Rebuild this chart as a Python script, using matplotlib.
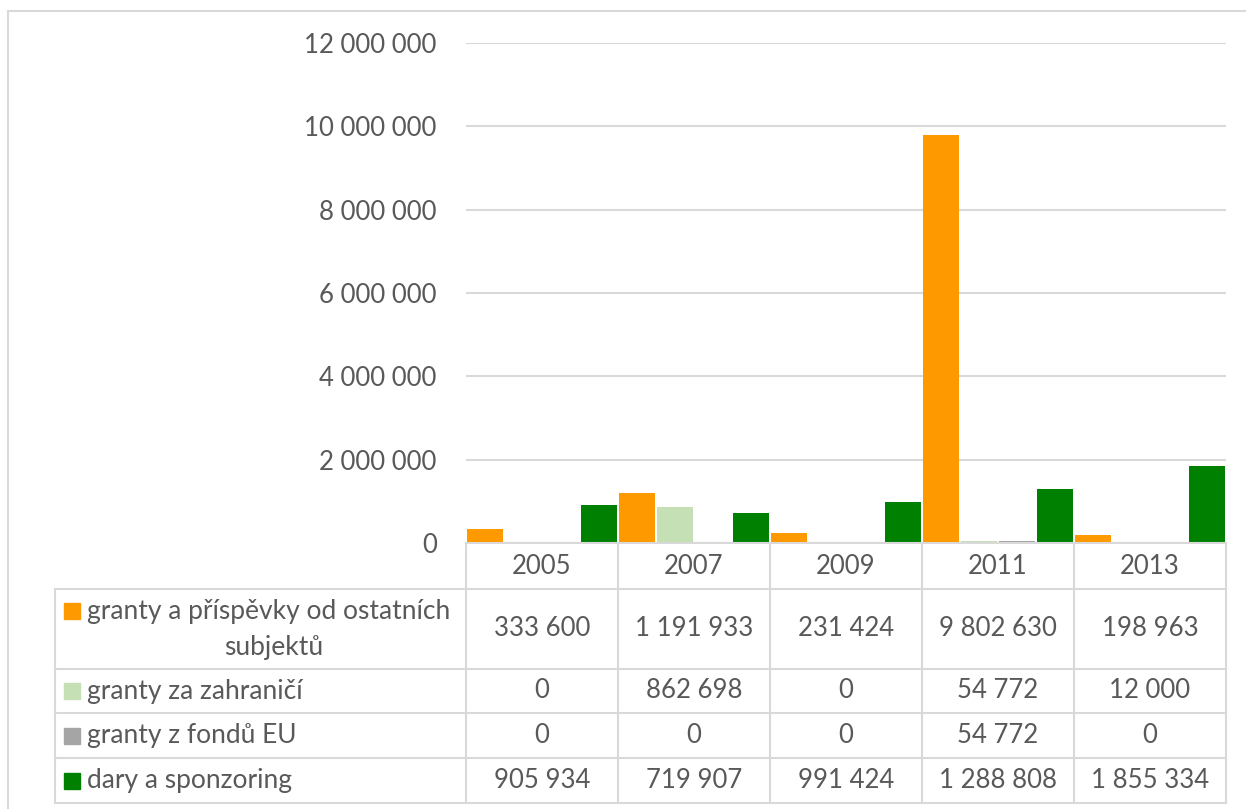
import matplotlib.pyplot as plt
from matplotlib.patches import Rectangle

plt.rcParams['font.family'] = ['Lato', 'DejaVu Sans']

years = ['2005', '2007', '2009', '2011', '2013']
series_names = ['granty a příspěvky od ostatních subjektů',
                'granty za zahraničí',
                'granty z fondů EU',
                'dary a sponzoring']
granty_ostatni = [333600, 1191933, 231424, 9802630, 198963]
granty_zahranici = [0, 862698, 0, 54772, 12000]
granty_eu = [0, 0, 0, 54772, 0]
dary = [905934, 719907, 991424, 1288808, 1855334]
series = [granty_ostatni, granty_zahranici, granty_eu, dary]
colors = ['#FF9900', '#C5E0B4', '#A5A5A5', '#008000']

txt = '#595959'
grid_c = '#D9D9D9'
W, H = 1246, 809
fs = 18.5
fs_lab = 19


def fmt(v):
    return f'{v:,}'.replace(',', ' ')


fig = plt.figure(figsize=(W / 100, H / 100), dpi=100)

# outer chart border (right/bottom lie outside the picture)
fig.patches.append(Rectangle((8 / W, -0.05), 1.2, 1 - 11 / H + 0.05,
                             transform=fig.transFigure, fill=False,
                             edgecolor=grid_c, lw=1.5))

# main bar axes
x0, x1, y_top, y_zero = 466, 1226, 43, 543
ax = fig.add_axes([x0 / W, (H - y_zero) / H, (x1 - x0) / W, (y_zero - y_top) / H])
n = len(series)
bw = 1.0 / n
for i, (vals, c) in enumerate(zip(series, colors)):
    pos = [k - 0.5 + bw * (i + 0.5) for k in range(len(years))]
    ax.bar(pos, vals, width=bw * 0.94, color=c, lw=0, zorder=3)
ax.set_xlim(-0.5, len(years) - 0.5)
ax.set_ylim(0, 12000000)
ax.set_yticks(range(0, 12000001, 2000000))
ax.set_yticklabels([fmt(v) for v in range(0, 12000001, 2000000)])
ax.tick_params(axis='y', length=0, pad=21, labelsize=fs, labelcolor=txt)
ax.set_xticks([])
ax.grid(axis='y', color=grid_c, lw=1.5, zorder=0)
for s in ax.spines.values():
    s.set_visible(False)

# data table below
tl = 55
rows = [543, 589, 669, 713, 758, 803]
tax = fig.add_axes([tl / W, (H - rows[-1]) / H, (x1 - tl) / W, (rows[-1] - rows[0]) / H])
xl = -0.5 - (x0 - tl) / (x1 - x0) * len(years)
tax.set_xlim(xl, len(years) - 0.5)
tax.set_ylim(rows[-1], rows[0])
tax.axis('off')

lk = dict(color=grid_c, lw=1.5, clip_on=False)
tax.plot([-0.5, len(years) - 0.5], [rows[0], rows[0]], **lk)
for k in range(len(years) + 1):
    tax.plot([k - 0.5, k - 0.5], [rows[0], rows[-1]], **lk)
tax.plot([xl, xl], [rows[1], rows[-1]], **lk)
for r in rows[1:]:
    tax.plot([xl, len(years) - 0.5], [r, r], **lk)

for k, y in enumerate(years):
    tax.text(k, (rows[0] + rows[1]) / 2, y, ha='center', va='center', fontsize=fs, color=txt)

px = (len(years) - 0.5 - xl) / (x1 - tl)  # data units per pixel
for i, (name, vals, c) in enumerate(zip(series_names, series, colors)):
    yc = (rows[i + 1] + rows[i + 2]) / 2
    if i == 0:
        y1 = yc - 18
        tax.add_patch(Rectangle((xl + 9 * px, y1 - 8), 16 * px, 16, color=c, clip_on=False))
        tax.text(xl + 32 * px, y1, 'granty a příspěvky od ostatních', ha='left', va='center',
                 fontsize=fs_lab, color=txt)
        tax.text((xl - 0.5) / 2 + 13 * px, yc + 18, 'subjektů', ha='center', va='center',
                 fontsize=fs_lab, color=txt)
    else:
        tax.add_patch(Rectangle((xl + 9 * px, yc - 8), 16 * px, 16, color=c, clip_on=False))
        tax.text(xl + 32 * px, yc, name, ha='left', va='center', fontsize=fs_lab, color=txt)
    for k, v in enumerate(vals):
        tax.text(k, yc, fmt(v), ha='center', va='center', fontsize=fs, color=txt)

fig.savefig('out.png', dpi=100, facecolor='white')
